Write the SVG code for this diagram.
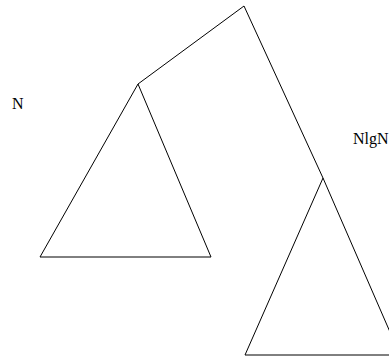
<svg xmlns="http://www.w3.org/2000/svg" width="389" height="359" viewBox="0 0 389 359">
<style>
.l{fill:none;stroke:#000;stroke-width:1}
.t{font-family:"Liberation Serif",serif;font-size:16px;fill:#000}
</style>
<rect width="389" height="359" fill="#fff"/>
<g id="connectors">
<polyline class="l" points="138,84 244,6 323,178"/>
</g>
<g id="left-tree"><polygon class="l" points="138,84 40,257 211,257"/></g>
<g id="right-tree"><polygon class="l" points="323,178 245,355 400,355"/></g>
<g id="label-N"><text class="t" x="12" y="109">N</text></g>
<g id="label-NlgN"><text class="t" x="353" y="144">NlgN</text></g>
</svg>
